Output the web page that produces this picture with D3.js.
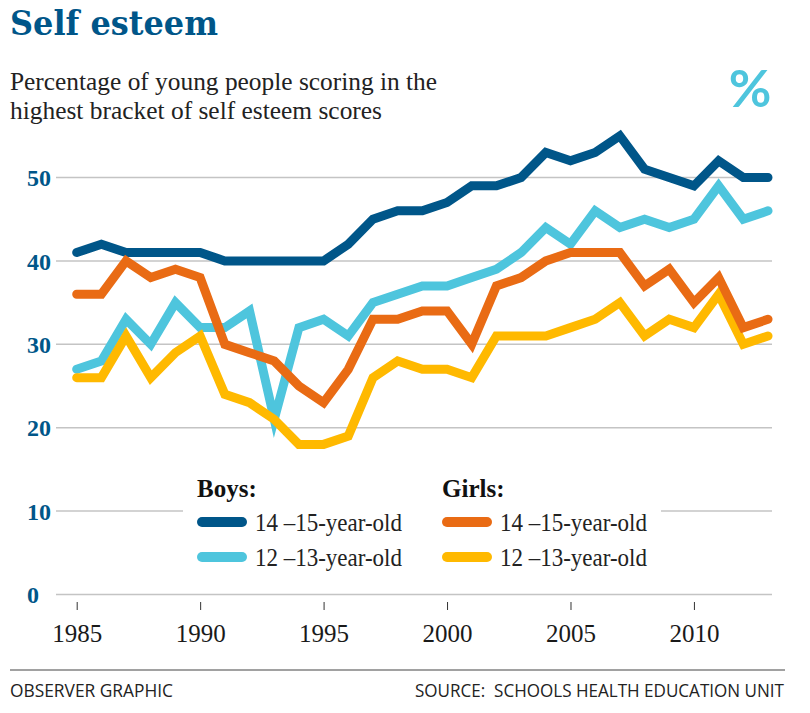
<!DOCTYPE html>
<html>
<head>
<meta charset="utf-8">
<script src="https://cdn.jsdelivr.net/npm/d3@7"></script>
<style>
  html, body { margin: 0; padding: 0; background: #fff; }
  svg { display: block; }
  text { white-space: pre; }
</style>
</head>
<body>
<svg id="chart" width="810" height="713"></svg>
<script>
// ---- data ----
const years = d3.range(1985, 2014);
const boys1415  = [41,42,41,41,41,41,40,40,40,40,40,42,45,46,46,47,49,49,50,53,52,53,55,51,50,49,52,50,50];
const boys1213  = [27,28,33,30,35,32,32,34,21,32,33,31,35,36,37,37,38,39,41,44,42,46,44,45,44,45,49,45,46];
const girls1415 = [36,36,40,38,39,38,30,29,28,25,23,27,33,33,34,34,30,37,38,40,41,41,41,37,39,35,38,32,33];
const girls1213 = [26,26,31,26,29,31,24,23,21,18,18,19,26,28,27,27,26,31,31,31,32,33,35,31,33,32,36,30,31];
const xTickValues = [1985, 1990, 1995, 2000, 2005, 2010];
const yTickValues = [0, 10, 20, 30, 40, 50];
const seriesNames = ["14 \u201315-year-old", "12 \u201313-year-old"];

const colors = {
  darkBlue: "#005689",
  lightBlue: "#4ec5dd",
  orange: "#e96b14",
  yellow: "#ffb900"
};

const svg = d3.select("#chart");

const x = d3.scaleLinear().domain([1985, 2013]).range([76.7, 768]);
const y = d3.scaleLinear().domain([0, 50]).range([594.5, 177.5]);

// Title
svg.append("text")
  .attr("x", 10).attr("y", 35)
  .attr("font-family", "DejaVu Serif").attr("font-weight", "bold")
  .attr("font-size", 34).attr("fill", colors.darkBlue)
  .attr("textLength", 208).attr("lengthAdjust", "spacingAndGlyphs")
  .text("Self esteem");

// Subtitle
const sub = ["Percentage of young people scoring in the", "highest bracket of self esteem scores"];
const subW = [427, 372];
sub.forEach((s, i) => {
  svg.append("text")
    .attr("x", 10).attr("y", 90 + i * 29)
    .attr("font-family", "Liberation Serif").attr("font-size", 25)
    .attr("fill", "#222")
    .attr("textLength", subW[i]).attr("lengthAdjust", "spacingAndGlyphs")
    .text(s);
});

// % symbol
svg.append("text")
  .attr("x", 750).attr("y", 107).attr("text-anchor", "middle")
  .attr("font-family", "Lato").attr("font-weight", "bold")
  .attr("font-size", 52).attr("fill", colors.lightBlue)
  .text("%");

// Gridlines
svg.append("g").selectAll("line").data(yTickValues).join("line")
  .attr("x1", 56).attr("x2", 772)
  .attr("y1", d => y(d)).attr("y2", d => y(d))
  .attr("stroke", "#c4c4c4").attr("stroke-width", 1.5);

// Y labels
svg.append("g").selectAll("text").data(yTickValues).join("text")
  .attr("x", 27).attr("y", d => y(d)).attr("dy", "0.36em")
  .attr("font-family", "Liberation Serif").attr("font-weight", "bold")
  .attr("font-size", 24).attr("fill", colors.darkBlue)
  .text(d => d);

// X axis ticks and labels
const xAxis = d3.axisBottom(x).tickValues(xTickValues).tickFormat(d3.format("d"))
  .tickSize(8).tickPadding(14);
const gx = svg.append("g").attr("transform", "translate(0,602)").call(xAxis);
gx.select(".domain").remove();
gx.selectAll(".tick line").attr("stroke", "#333").attr("stroke-width", 1).attr("y1", 0);
gx.selectAll(".tick text")
  .attr("font-family", "Liberation Serif").attr("font-size", 25)
  .attr("fill", "#1a1a1a");

// Legend background
svg.append("rect")
  .attr("x", 183).attr("y", 470).attr("width", 478).attr("height", 105)
  .attr("fill", "#fff");

// Lines
const line = d3.line().x((d, i) => x(years[i])).y(d => y(d));
const seriesList = [
  { values: boys1415, color: colors.darkBlue },
  { values: boys1213, color: colors.lightBlue },
  { values: girls1213, color: colors.yellow },
  { values: girls1415, color: colors.orange }
];
svg.append("g").selectAll("path").data(seriesList).join("path")
  .attr("d", d => line(d.values))
  .attr("fill", "none")
  .attr("stroke", d => d.color)
  .attr("stroke-width", 9)
  .attr("stroke-linejoin", "miter")
  .attr("stroke-miterlimit", 10)
  .attr("stroke-linecap", "round");

// Legend
const legendGroups = [
  { title: "Boys:", x: 197, cols: [colors.darkBlue, colors.lightBlue] },
  { title: "Girls:", x: 442, cols: [colors.orange, colors.yellow] }
];
legendGroups.forEach(g => {
  svg.append("text")
    .attr("x", g.x).attr("y", 497)
    .attr("font-family", "Liberation Serif").attr("font-weight", "bold")
    .attr("font-size", 25).attr("fill", "#111")
    .text(g.title);
  g.cols.forEach((c, i) => {
    const cy = 522 + i * 35;
    svg.append("line")
      .attr("x1", g.x + 5).attr("x2", g.x + 45)
      .attr("y1", cy).attr("y2", cy)
      .attr("stroke", c).attr("stroke-width", 10).attr("stroke-linecap", "round");
    svg.append("text")
      .attr("x", g.x + 58).attr("y", cy + 6).attr("dy", "0.1em")
      .attr("font-family", "Liberation Serif").attr("font-size", 25)
      .attr("fill", "#222")
      .attr("textLength", 147).attr("lengthAdjust", "spacingAndGlyphs")
      .text(seriesNames[i]);
  });
});

// Footer
svg.append("line").attr("x1", 10).attr("x2", 785).attr("y1", 670).attr("y2", 670)
  .attr("stroke", "#444").attr("stroke-width", 1.2);
svg.append("text")
  .attr("x", 10).attr("y", 697)
  .attr("font-family", "Open Sans").attr("font-size", 18).attr("fill", "#222")
  .attr("textLength", 163).attr("lengthAdjust", "spacingAndGlyphs")
  .text("OBSERVER GRAPHIC");
svg.append("text")
  .attr("x", 784).attr("y", 697).attr("text-anchor", "end")
  .attr("font-family", "Open Sans").attr("font-size", 18).attr("fill", "#222")
  .attr("textLength", 369).attr("lengthAdjust", "spacingAndGlyphs")
  .text("SOURCE:  SCHOOLS HEALTH EDUCATION UNIT");
</script>
</body>
</html>
